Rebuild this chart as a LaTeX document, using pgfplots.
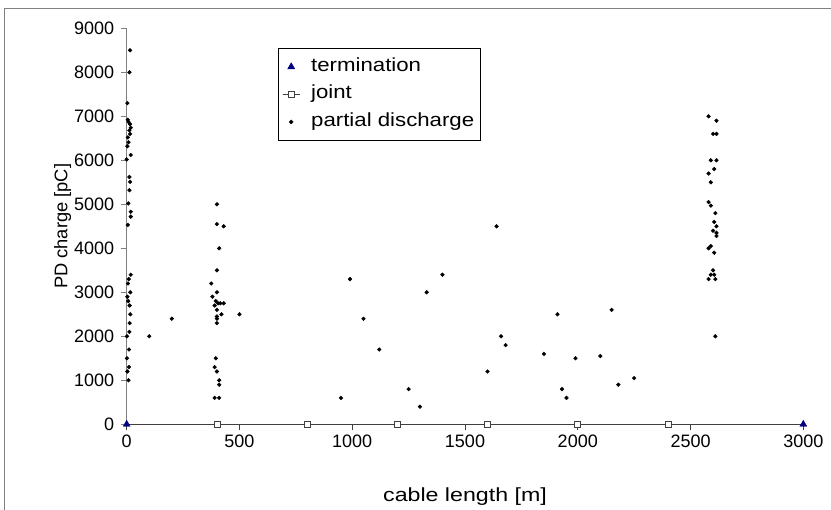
\documentclass[border=0pt]{standalone}
\usepackage{pgfplots}
\pgfplotsset{compat=1.18}
\usepackage{fontspec}
\setmainfont{Liberation Sans}
\newfontfamily\wide[FakeStretch=1.22]{Liberation Sans}
\newfontfamily\legfont[FakeStretch=1.17]{Liberation Sans}
\newfontfamily\plain{Liberation Sans}
\definecolor{termblue}{RGB}{0,0,128}
\definecolor{axgray}{RGB}{128,128,128}
\definecolor{axdark}{RGB}{64,64,64}
\begin{document}
\begin{tikzpicture}
\begin{axis}[
  name=ax,
  scale only axis,
  width=676.6pt, height=396pt,
  xmin=0, xmax=3000, ymin=0, ymax=9000,
  clip=false,
  axis x line*=bottom, axis y line*=left,
  x axis line style={axdark, line width=1pt},
  y axis line style={axgray, line width=1pt},
  xtick={0,500,...,3000}, ytick={0,1000,...,9000},
  tick align=outside, major tick length=6pt,
  x tick style={axdark, line width=0.8pt},
  y tick style={axgray, line width=0.8pt},
  minor tick num=0,
  /pgf/number format/1000 sep={},
  /pgf/number format/assume math mode=true,
  ticklabel style={font=\plain\fontsize{18}{21}\selectfont},
  xticklabel style={yshift=-1pt},
  yticklabel style={xshift=-3pt},
  xlabel={cable length [m]}, ylabel={PD charge [pC]},
  xlabel style={font=\wide\fontsize{19}{23}\selectfont, at={(axis description cs:0.5,0)}, anchor=center, yshift=-72pt},
  ylabel style={font=\plain\fontsize{18.3}{22}\selectfont, at={(axis description cs:0,0.5)}, anchor=center, yshift=64pt},
  legend style={at={(axis description cs:0.2236,0.950)}, anchor=north west,
    draw=black, line width=0.6pt, fill=white, font=\legfont\fontsize{19}{23}\selectfont,
    inner xsep=4pt, inner ysep=8pt, row sep=6.5pt, column sep=9pt,
    nodes={text height=13pt, text depth=4pt},
    cells={anchor=west}},
  legend cell align=left,
]
\addplot[only marks, mark=triangle*, mark size=4pt, color=termblue] coordinates {(0,0) (3000,0)};
\addlegendentry{termination}
\addplot[axdark, line width=0.8pt, mark=square*, mark size=3pt, mark options={fill=white, draw=axdark, line width=0.8pt}] coordinates {(400,0) (800,0) (1200,0) (1600,0) (2000,0) (2400,0)};
\addlegendentry{joint}
\addplot[only marks, mark=*, mark size=1.9pt, color=black] coordinates {
(15,8500) (12,8000) (3,7300) (5,6920) (8,6870) (15,6820) (18,6740) (12,6680) (15,6600) (5,6520) (8,6410) (3,6320) (18,6120) (0,6020)
(12,5620) (15,5510) (12,5320) (7,5020) (18,4830) (18,4720) (5,4530)
(18,3400) (9,3300) (6,3200) (16,3000) (3,2900) (7,2800) (13,2700) (16,2500) (13,2300) (12,2100) (1,2000) (10,1700) (1,1500) (10,1300) (3,1200) (8,1000)
(100,2000) (200,2400)
(400,5000) (400,4550) (430,4500) (410,4000) (400,3500) (375,3200) (400,3000) (380,2900) (395,2800) (405,2750) (415,2750) (430,2750) (390,2700) (400,2600) (420,2500) (400,2450) (400,2400) (400,2300) (500,2500) (395,1500) (390,1300) (400,1200) (410,1000) (410,900) (390,600) (410,600)
(950,600) (990,3300) (1050,2400) (1120,1700) (1250,800) (1300,400) (1330,3000) (1400,3400) (1600,1200) (1640,4500) (1660,2000) (1680,1800) (1850,1600) (1910,2500) (1930,800) (1950,600) (1990,1500) (2100,1550) (2150,2600) (2180,900) (2250,1050)
(2580,7000) (2615,6900) (2600,6600) (2615,6600) (2590,6000) (2615,6000) (2605,5800) (2580,5700) (2590,5500) (2580,5050) (2590,4970) (2610,4800) (2605,4600) (2615,4500) (2600,4400) (2615,4350) (2615,4280) (2590,4050) (2580,4000) (2605,3900) (2600,3500) (2590,3400) (2605,3400) (2580,3300) (2610,3300) (2610,2000)
};
\addlegendentry{partial discharge}
\end{axis}
\pgfresetboundingbox
\path[use as bounding box] ([shift={(-126.7pt,-85.7pt)}]ax.south west) rectangle ([shift={(704.3pt,424.3pt)}]ax.south west);
\draw[axgray, line width=1pt] ([shift={(-121.7pt,-90pt)}]ax.south west) -- ([shift={(-121.7pt,415.3pt)}]ax.south west) -- ([shift={(710pt,415.3pt)}]ax.south west);
\end{tikzpicture}
\end{document}
